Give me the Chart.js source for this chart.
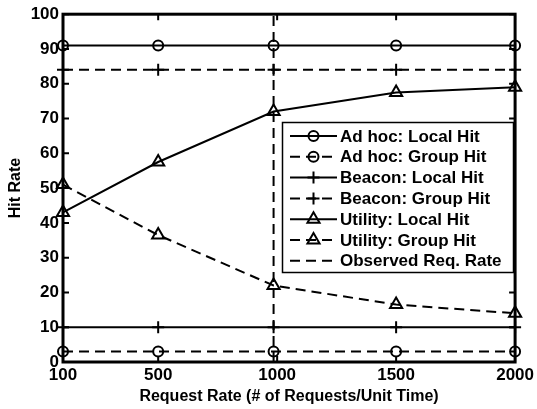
<!DOCTYPE html>
<html>
<head>
<meta charset="utf-8">
<script src="https://cdn.jsdelivr.net/npm/chart.js@4.4.1/dist/chart.umd.min.js"></script>
<style>
  html, body { margin: 0; padding: 0; background: #fff; }
  #wrap { width: 537px; height: 409px; }
</style>
</head>
<body>
<div id="wrap"><canvas id="hitChart" width="537" height="409"></canvas></div>
<script>
// Data
const reqRates = [100, 500, 985, 1500, 2000];
const xTickLabels = [100, 500, 1000, 1500, 2000];
const yTickLabels = [0, 10, 20, 30, 40, 50, 60, 70, 80, 90, 100];

const adhocLocal = [91, 91, 91, 91, 91];
const adhocGroup = [3, 3, 3, 3, 3];
const beaconLocal = [10, 10, 10, 10, 10];
const beaconGroup = [84, 84, 84, 84, 84];
const utilityLocal = [43, 57.5, 72, 77.5, 79];
const utilityGroup = [51, 36.5, 22, 16.5, 14];
const observedRate = 985;
const observedSpan = [0, 100];

const FONT = "'Liberation Sans', Arial, Helvetica, sans-serif";
const DASH = [10, 6];

const pts = (vals) => vals.map((v, i) => ({ x: reqRates[i], y: v }));

function series(label, vals, style, radius, dashed){
  return {
    label, data: pts(vals),
    borderColor: "#000", borderWidth: 2, borderDash: dashed ? DASH : [],
    pointStyle: style, pointRadius: radius, pointHoverRadius: radius,
    pointBorderColor: "#000", pointBackgroundColor: "rgba(0,0,0,0)", pointBorderWidth: 2,
    fill: false, tension: 0, clip: false
  };
}

const datasets = [
  series("Ad hoc: Local Hit", adhocLocal, "circle", 5, false),
  series("Ad hoc: Group Hit", adhocGroup, "circle", 5, true),
  series("Beacon: Local Hit", beaconLocal, "cross", 6, false),
  series("Beacon: Group Hit", beaconGroup, "cross", 6, true),
  series("Utility: Local Hit", utilityLocal, "triangle", 7, false),
  series("Utility: Group Hit", utilityGroup, "triangle", 7, true),
  {
    label: "Observed Req. Rate",
    data: observedSpan.map(v => ({ x: observedRate, y: v })),
    borderColor: "#000", borderWidth: 2, borderDash: DASH,
    pointRadius: 0, pointStyle: false, fill: false, clip: false
  }
];

// Frame, inward ticks and the in-plot legend
const framePlugin = {
  id: "frame",
  afterDraw(chart){
    const { ctx, chartArea: a, scales } = chart;
    ctx.save();
    ctx.strokeStyle = "#000";
    ctx.lineWidth = 2;
    ctx.setLineDash([]);
    const tl = 6;
    xTickLabels.forEach(v => {
      const px = scales.x.getPixelForValue(v);
      ctx.beginPath();
      ctx.moveTo(px, a.bottom); ctx.lineTo(px, a.bottom - tl);
      ctx.moveTo(px, a.top); ctx.lineTo(px, a.top + tl);
      ctx.stroke();
    });
    yTickLabels.forEach(v => {
      const py = scales.y.getPixelForValue(v);
      ctx.beginPath();
      ctx.moveTo(a.left, py); ctx.lineTo(a.left + tl, py);
      ctx.moveTo(a.right, py); ctx.lineTo(a.right - tl, py);
      ctx.stroke();
    });
    ctx.lineWidth = 3;
    ctx.strokeRect(a.left, a.top, a.right - a.left, a.bottom - a.top);

    // legend box
    const bx = 282, by = 122, bw = 231, bh = 150;
    ctx.fillStyle = "#fff";
    ctx.fillRect(bx, by, bw, bh);
    ctx.lineWidth = 1.5;
    ctx.strokeRect(bx + 0.5, by + 0.5, bw, bh);

    ctx.font = "bold 17px " + FONT;
    ctx.textBaseline = "middle";
    ctx.textAlign = "left";
    chart.data.datasets.forEach((ds, i) => {
      const y = by + 14 + i * 20.8;
      ctx.strokeStyle = "#000";
      ctx.lineWidth = 2;
      ctx.setLineDash(ds.borderDash || []);
      ctx.beginPath();
      ctx.moveTo(290, y); ctx.lineTo(337, y);
      ctx.stroke();
      ctx.setLineDash([]);
      if (ds.pointStyle) {
        ctx.fillStyle = "rgba(0,0,0,0)";
        ctx.lineWidth = 2;
        Chart.helpers.drawPoint(ctx, { pointStyle: ds.pointStyle, radius: ds.pointRadius, rotation: 0, borderWidth: 2 }, 313.5, y);
      }
      ctx.fillStyle = "#000";
      ctx.fillText(ds.label, 340, y + 1);
    });
    ctx.restore();
  }
};

const ctx = document.getElementById("hitChart").getContext("2d");
new Chart(ctx, {
  type: "line",
  data: { datasets },
  plugins: [framePlugin],
  options: {
    responsive: false,
    animation: false,
    events: [],
    layout: { autoPadding: false, padding: { top: 8, right: 20, left: 0, bottom: 0 } },
    plugins: { legend: { display: false }, tooltip: { enabled: false } },
    scales: {
      x: {
        type: "linear", min: 100, max: 2000,
        afterBuildTicks: s => { s.ticks = xTickLabels.map(v => ({ value: v })); },
        afterFit: s => { s.height = 47; },
        grid: { display: false, drawTicks: false, tickLength: 0 }, border: { display: false },
        ticks: { color: "#000", padding: 3, maxRotation: 0, callback: v => String(v), font: { family: FONT, size: 17, weight: "bold" } },
        title: { display: true, text: "Request Rate (# of Requests/Unit Time)", color: "#000", padding: { top: 0, bottom: 3 }, font: { family: FONT, size: 16, weight: "bold" } }
      },
      y: {
        min: 0, max: 100,
        afterBuildTicks: s => { s.ticks = yTickLabels.map(v => ({ value: v })); },
        afterFit: s => { s.width = 63; },
        grid: { display: false, drawTicks: false, tickLength: 0 }, border: { display: false },
        ticks: { color: "#000", padding: 4, font: { family: FONT, size: 17, weight: "bold" } },
        title: { display: true, text: "Hit Rate", color: "#000", padding: { top: 6, bottom: 0 }, font: { family: FONT, size: 16, weight: "bold" } }
      }
    }
  }
});
</script>
</body>
</html>
